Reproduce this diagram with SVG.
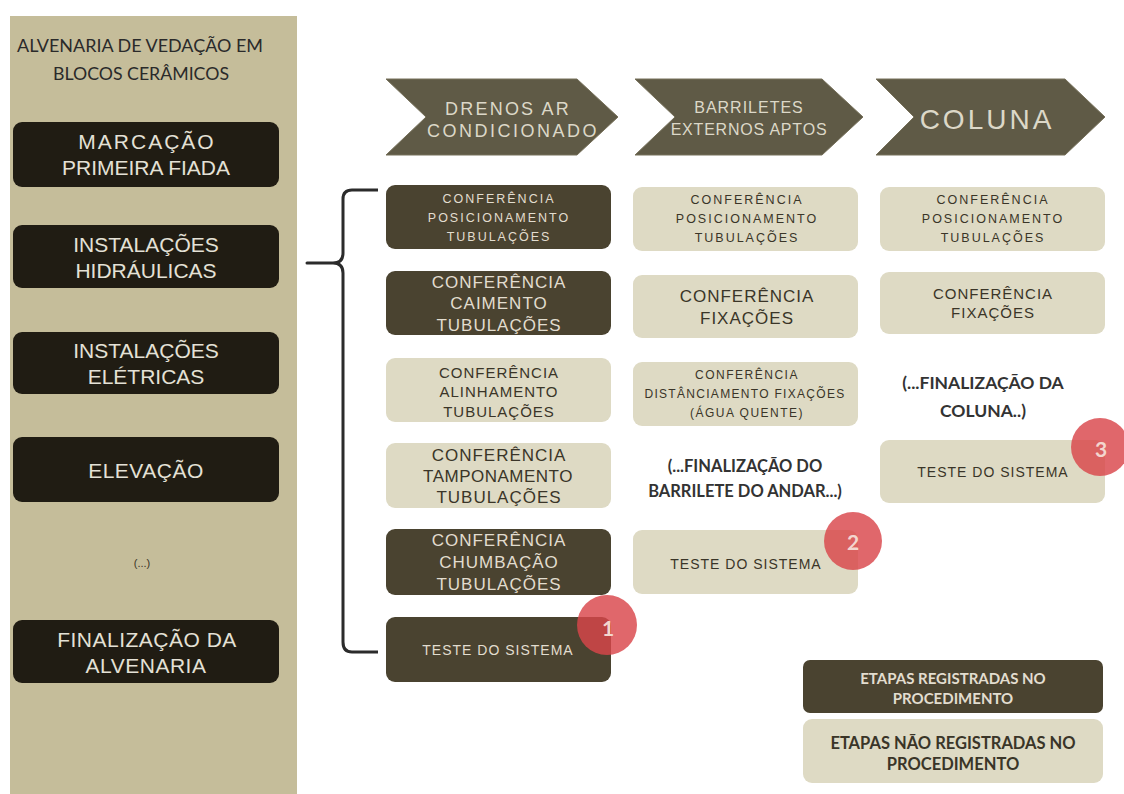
<svg xmlns="http://www.w3.org/2000/svg" width="1124" height="794" viewBox="0 0 1124 794">
  <style>
    .gothic { font-family: "Liberation Sans", Arial, sans-serif; text-anchor: middle; dominant-baseline: central; }
    .calibri { font-family: Lato, "Open Sans", "Liberation Sans", sans-serif; text-anchor: middle; dominant-baseline: central; }
    .panel { fill: #C5BD9A; }
    .black { fill: #201C13; }
    .dark { fill: #4A4330; }
    .light { fill: #DEDAC4; }
    .chev { fill: #5F5A46; stroke: #77715B; stroke-width: 1; }
    .ton-black { fill: #E4E1D6; }
    .ton-dark { fill: #E2DDCF; }
    .ton-light { fill: #3A3528; }
    .small { font-size: 12.5px; letter-spacing: 2px; }
    .mid { font-size: 17px; letter-spacing: 1px; }
    .test { font-size: 14px; letter-spacing: 1px; }
    .badge { fill: #D9464A; fill-opacity: 0.82; }
    .num { font-family: Lato, "Open Sans", sans-serif; font-weight: 700; font-size: 21px; fill: #F3D6CF; text-anchor: middle; dominant-baseline: central; }
  </style>

  <rect width="1124" height="794" fill="#FFFFFF"/>

  <!-- left column: masonry stages -->
  <g id="panel-alvenaria">
    <rect class="panel" x="10" y="16" width="287" height="778"/>
    <text class="calibri" x="140" y="45" font-size="17" fill="#2A2A2A" textLength="246" lengthAdjust="spacingAndGlyphs">ALVENARIA DE VEDAÇÃO EM</text>
    <text class="calibri" x="141" y="73" font-size="17" fill="#2A2A2A" textLength="176" lengthAdjust="spacingAndGlyphs">BLOCOS CERÂMICOS</text>
  </g>

  <g id="stage-marcacao">
    <rect class="black" x="13" y="122" width="266" height="65" rx="9"/>
    <text class="gothic ton-black" x="147" y="141" font-size="21" letter-spacing="2">MARCAÇÃO</text>
    <text class="gothic ton-black" x="146" y="167" font-size="21" letter-spacing="0">PRIMEIRA FIADA</text>
  </g>
  <g id="stage-hidraulicas">
    <rect class="black" x="13" y="225" width="266" height="63" rx="9"/>
    <text class="gothic ton-black" x="146" y="244" font-size="21" letter-spacing="0">INSTALAÇÕES</text>
    <text class="gothic ton-black" x="146" y="270" font-size="21" letter-spacing="0">HIDRÁULICAS</text>
  </g>
  <g id="stage-eletricas">
    <rect class="black" x="13" y="332" width="266" height="62" rx="9"/>
    <text class="gothic ton-black" x="146" y="350" font-size="21" letter-spacing="0">INSTALAÇÕES</text>
    <text class="gothic ton-black" x="146" y="376" font-size="21" letter-spacing="0">ELÉTRICAS</text>
  </g>
  <g id="stage-elevacao">
    <rect class="black" x="13" y="437" width="266" height="65" rx="9"/>
    <text class="gothic ton-black" x="146" y="470" font-size="21" letter-spacing="0.5">ELEVAÇÃO</text>
  </g>
  <g id="stage-etc">
    <text class="gothic" x="142" y="563" font-size="11" fill="#3A3528">(...)</text>
  </g>
  <g id="stage-finalizacao">
    <rect class="black" x="13" y="620" width="266" height="63" rx="9"/>
    <text class="gothic ton-black" x="147" y="639" font-size="21" letter-spacing="0.5">FINALIZAÇÃO DA</text>
    <text class="gothic ton-black" x="146" y="665" font-size="21" letter-spacing="0.5">ALVENARIA</text>
  </g>

  <!-- brace from hydraulic installations to the checklist -->
  <g id="connectors">
    <path d="M378,190 L352,190 Q343,190 343,199 L343,253 Q343,263 333,263 L307,263 L333,263 Q343,263 343,273 L343,642 Q343,652 352,652 L378,652" fill="none" stroke="#2B2B2B" stroke-width="3" stroke-linejoin="round"/>
  </g>

  <!-- column headers -->
  <g id="header-drenos">
    <path class="chev" d="M386,79 L577,79 L618,117 L577,155 L386,155 L426,117 Z"/>
    <text class="gothic" x="508" y="109" font-size="18" fill="#DCD8C8" letter-spacing="2.2">DRENOS AR</text>
    <text class="gothic" x="513" y="131" font-size="18" fill="#DCD8C8" letter-spacing="2.5">CONDICIONADO</text>
  </g>
  <g id="header-barriletes">
    <path class="chev" d="M635,79 L822,79 L863,117 L822,155 L635,155 L675,117 Z"/>
    <text class="gothic" x="749" y="107" font-size="16" fill="#DCD8C8" letter-spacing="1">BARRILETES</text>
    <text class="gothic" x="749" y="129" font-size="16" fill="#DCD8C8" letter-spacing="0.8">EXTERNOS APTOS</text>
  </g>
  <g id="header-coluna">
    <path class="chev" d="M876,79 L1065,79 L1105,117 L1065,155 L876,155 L914,117 Z"/>
    <text class="gothic" x="987" y="119" font-size="28" fill="#DCD8C8" letter-spacing="3">COLUNA</text>
  </g>

  <!-- column 1: drenos -->
  <g id="c1-posicionamento">
    <rect class="dark" x="386" y="185" width="225" height="64" rx="9"/>
    <text class="gothic ton-dark small" x="499" y="199">CONFERÊNCIA</text>
    <text class="gothic ton-dark small" x="499" y="218">POSICIONAMENTO</text>
    <text class="gothic ton-dark small" x="499" y="237">TUBULAÇÕES</text>
  </g>
  <g id="c1-caimento">
    <rect class="dark" x="386" y="271" width="225" height="64" rx="9"/>
    <text class="gothic ton-dark mid" x="499" y="282">CONFERÊNCIA</text>
    <text class="gothic ton-dark mid" x="499" y="303">CAIMENTO</text>
    <text class="gothic ton-dark mid" x="499" y="325">TUBULAÇÕES</text>
  </g>
  <g id="c1-alinhamento">
    <rect class="light" x="386" y="358" width="225" height="64" rx="9"/>
    <text class="gothic ton-light" x="499" y="372" font-size="15" letter-spacing="1">CONFERÊNCIA</text>
    <text class="gothic ton-light" x="499" y="391" font-size="15" letter-spacing="1">ALINHAMENTO</text>
    <text class="gothic ton-light" x="499" y="411" font-size="15" letter-spacing="1">TUBULAÇÕES</text>
  </g>
  <g id="c1-tamponamento">
    <rect class="light" x="386" y="443" width="225" height="65" rx="9"/>
    <text class="gothic ton-light mid" x="499" y="455">CONFERÊNCIA</text>
    <text class="gothic ton-light" x="498" y="476" font-size="17" letter-spacing="0.5">TAMPONAMENTO</text>
    <text class="gothic ton-light mid" x="499" y="497">TUBULAÇÕES</text>
  </g>
  <g id="c1-chumbacao">
    <rect class="dark" x="386" y="529" width="225" height="66" rx="9"/>
    <text class="gothic ton-dark mid" x="499" y="540">CONFERÊNCIA</text>
    <text class="gothic ton-dark mid" x="499" y="562">CHUMBAÇÃO</text>
    <text class="gothic ton-dark mid" x="499" y="584">TUBULAÇÕES</text>
  </g>
  <g id="c1-teste">
    <rect class="dark" x="386" y="617" width="225" height="65" rx="9"/>
    <text class="gothic ton-dark test" x="498" y="650">TESTE DO SISTEMA</text>
  </g>

  <!-- column 2: barriletes -->
  <g id="c2-posicionamento">
    <rect class="light" x="633" y="187" width="225" height="64" rx="9"/>
    <text class="gothic ton-light small" x="747" y="200">CONFERÊNCIA</text>
    <text class="gothic ton-light small" x="747" y="219">POSICIONAMENTO</text>
    <text class="gothic ton-light small" x="747" y="238">TUBULAÇÕES</text>
  </g>
  <g id="c2-fixacoes">
    <rect class="light" x="633" y="275" width="225" height="63" rx="9"/>
    <text class="gothic ton-light mid" x="747" y="296">CONFERÊNCIA</text>
    <text class="gothic ton-light mid" x="747" y="318">FIXAÇÕES</text>
  </g>
  <g id="c2-distanciamento">
    <rect class="light" x="633" y="362" width="225" height="64" rx="9"/>
    <text class="gothic ton-light" x="747" y="375" font-size="12" letter-spacing="1.5">CONFERÊNCIA</text>
    <text class="gothic ton-light" x="745" y="394" font-size="12" letter-spacing="1.3">DISTÂNCIAMENTO FIXAÇÕES</text>
    <text class="gothic ton-light" x="747" y="413" font-size="12" letter-spacing="1.5">(ÁGUA QUENTE)</text>
  </g>
  <g id="c2-finalizacao">
    <text class="calibri" x="745" y="466" font-size="16.5" font-weight="700" fill="#333333">(...FINALIZAÇÃO DO</text>
    <text class="calibri" x="745" y="491" font-size="16.5" font-weight="700" fill="#333333">BARRILETE DO ANDAR...)</text>
  </g>
  <g id="c2-teste">
    <rect class="light" x="633" y="530" width="225" height="64" rx="9"/>
    <text class="gothic ton-light test" x="746" y="564">TESTE DO SISTEMA</text>
  </g>

  <!-- column 3: coluna -->
  <g id="c3-posicionamento">
    <rect class="light" x="880" y="187" width="225" height="64" rx="9"/>
    <text class="gothic ton-light small" x="993" y="200">CONFERÊNCIA</text>
    <text class="gothic ton-light small" x="993" y="219">POSICIONAMENTO</text>
    <text class="gothic ton-light small" x="993" y="238">TUBULAÇÕES</text>
  </g>
  <g id="c3-fixacoes">
    <rect class="light" x="880" y="272" width="225" height="62" rx="9"/>
    <text class="gothic ton-light" x="993" y="293" font-size="15" letter-spacing="1">CONFERÊNCIA</text>
    <text class="gothic ton-light" x="993" y="312" font-size="15" letter-spacing="1">FIXAÇÕES</text>
  </g>
  <g id="c3-finalizacao">
    <text class="calibri" x="983" y="382" font-size="17.5" font-weight="700" fill="#333333">(...FINALIZAÇÃO DA</text>
    <text class="calibri" x="983" y="410" font-size="17.5" font-weight="700" fill="#333333">COLUNA..)</text>
  </g>
  <g id="c3-teste">
    <rect class="light" x="880" y="440" width="225" height="63" rx="9"/>
    <text class="gothic ton-light test" x="993" y="472">TESTE DO SISTEMA</text>
  </g>

  <!-- numbered test markers -->
  <g id="badge-1">
    <circle class="badge" cx="607" cy="625" r="30"/>
    <text class="num" x="608" y="627">1</text>
  </g>
  <g id="badge-2">
    <circle class="badge" cx="853" cy="541" r="29"/>
    <text class="num" x="853" y="541">2</text>
  </g>
  <g id="badge-3">
    <circle class="badge" cx="1100" cy="447" r="29"/>
    <text class="num" x="1101" y="448">3</text>
  </g>

  <!-- legend -->
  <g id="legend-registradas">
    <rect class="dark" x="803" y="660" width="300" height="53" rx="7"/>
    <text class="calibri" x="953" y="678" font-size="15" font-weight="700" fill="#E2DDCF">ETAPAS REGISTRADAS NO</text>
    <text class="calibri" x="953" y="698" font-size="15" font-weight="700" fill="#E2DDCF">PROCEDIMENTO</text>
  </g>
  <g id="legend-nao-registradas">
    <rect class="light" x="803" y="719" width="300" height="64" rx="9"/>
    <text class="calibri" x="953" y="743" font-size="16.5" font-weight="700" fill="#3A3528">ETAPAS NÃO REGISTRADAS NO</text>
    <text class="calibri" x="953" y="764" font-size="16.5" font-weight="700" fill="#3A3528">PROCEDIMENTO</text>
  </g>
</svg>
